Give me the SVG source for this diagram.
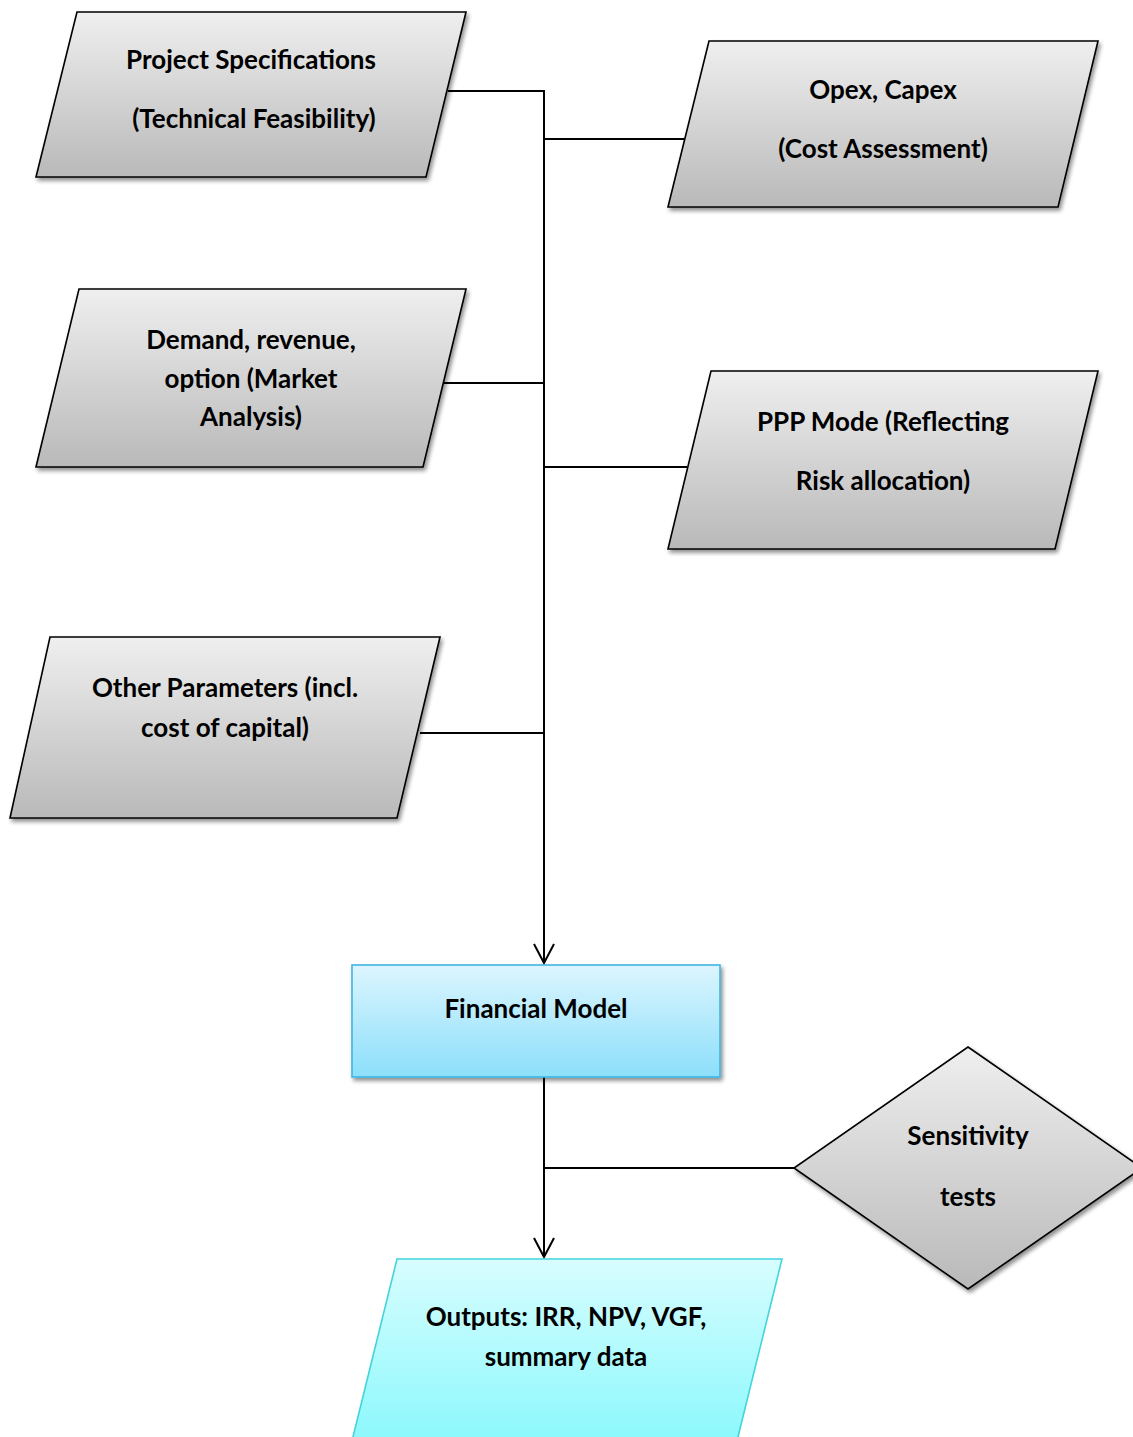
<svg xmlns="http://www.w3.org/2000/svg" width="1133" height="1437" viewBox="0 0 1133 1437">
  <defs>
    <linearGradient id="gGray" x1="0" y1="0" x2="0" y2="1">
      <stop offset="0" stop-color="#efefef"/>
      <stop offset="1" stop-color="#b9b9b9"/>
    </linearGradient>
    <linearGradient id="gBlue" x1="0" y1="0" x2="0" y2="1">
      <stop offset="0" stop-color="#dcf5fe"/>
      <stop offset="1" stop-color="#8cdffb"/>
    </linearGradient>
    <linearGradient id="gCyan" x1="0" y1="0" x2="0" y2="1">
      <stop offset="0" stop-color="#d8fdff"/>
      <stop offset="1" stop-color="#8af8fc"/>
    </linearGradient>
    <filter id="shadow" x="-10%" y="-10%" width="125%" height="130%">
      <feGaussianBlur in="SourceAlpha" stdDeviation="2"/>
      <feOffset dx="2" dy="3" result="b"/>
      <feComponentTransfer><feFuncA type="linear" slope="0.45"/></feComponentTransfer>
      <feMerge><feMergeNode/><feMergeNode in="SourceGraphic"/></feMerge>
    </filter>
    <!-- open V arrowhead, drawn pointing along +x -->
    <marker id="arrow" viewBox="0 0 24 24" refX="22" refY="12" markerWidth="24" markerHeight="24" markerUnits="userSpaceOnUse" orient="auto">
      <path d="M3,2 L22,12 L3,22" fill="none" stroke="#000" stroke-width="2"/>
    </marker>
  </defs>
  <style>
    .gray { fill: url(#gGray); stroke: #000; stroke-width: 1.6; filter: url(#shadow); }
    .blue { fill: url(#gBlue); stroke: #3fb6e3; stroke-width: 1.6; filter: url(#shadow); }
    .cyan { fill: url(#gCyan); stroke: #43d3dc; stroke-width: 1.6; }
    .label { font-family: Lato, "Open Sans", "Liberation Sans", sans-serif; font-weight: bold; font-size: 26px; fill: #000; text-anchor: middle; }
    .conn { fill: none; stroke: #000; stroke-width: 2; }
  </style>

  <!-- flow lines -->
  <g id="connectors">
    <path class="conn" d="M448,91 H544 V963" marker-end="url(#arrow)"/>
    <path class="conn" d="M544,139 H686"/>
    <path class="conn" d="M440,383 H544"/>
    <path class="conn" d="M544,467 H687"/>
    <path class="conn" d="M420,733 H544"/>
    <path class="conn" d="M544,1077 V1257" marker-end="url(#arrow)"/>
    <path class="conn" d="M544,1168 H794"/>
  </g>

  <g id="project-specifications">
    <polygon class="gray" points="77,12 466,12 426,177 36,177"/>
    <text class="label" x="251" y="69">Project Specifications</text>
    <text class="label" x="254" y="128">(Technical Feasibility)</text>
  </g>

  <g id="opex-capex">
    <polygon class="gray" points="709,41 1098,41 1058,207 668,207"/>
    <text class="label" x="883" y="99">Opex, Capex</text>
    <text class="label" x="883" y="158">(Cost Assessment)</text>
  </g>

  <g id="demand-revenue">
    <polygon class="gray" points="79,289 466,289 423,467 36,467"/>
    <text class="label" x="251" y="349">Demand, revenue,</text>
    <text class="label" x="251" y="388">option (Market</text>
    <text class="label" x="251" y="426">Analysis)</text>
  </g>

  <g id="ppp-mode">
    <polygon class="gray" points="711,371 1098,371 1055,549 668,549"/>
    <text class="label" x="883" y="431">PPP Mode (Reflecting</text>
    <text class="label" x="883" y="490">Risk allocation)</text>
  </g>

  <g id="other-parameters">
    <polygon class="gray" points="50,637 440,637 397,818 10,818"/>
    <text class="label" x="225" y="697">Other Parameters (incl.</text>
    <text class="label" x="225" y="737">cost of capital)</text>
  </g>

  <g id="financial-model">
    <rect class="blue" x="352" y="965" width="368" height="112"/>
    <text class="label" x="536" y="1018">Financial Model</text>
  </g>

  <g id="sensitivity-tests">
    <polygon class="gray" points="968,1047 1142,1168 968,1289 794,1168"/>
    <text class="label" x="968" y="1145">Sensitivity</text>
    <text class="label" x="968" y="1206">tests</text>
  </g>

  <g id="outputs">
    <polygon class="cyan" points="397,1259 782,1259 736,1445 351,1445"/>
    <text class="label" x="566" y="1326">Outputs: IRR, NPV, VGF,</text>
    <text class="label" x="566" y="1366">summary data</text>
  </g>
</svg>
